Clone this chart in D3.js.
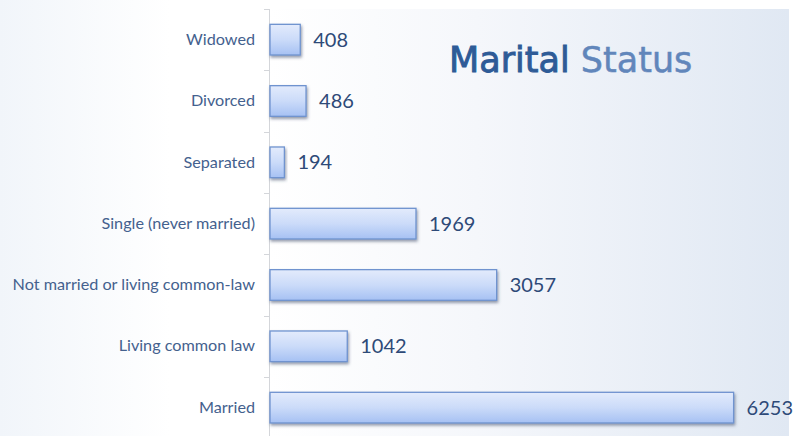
<!DOCTYPE html>
<html>
<head>
<meta charset="utf-8">
<script src="https://cdn.jsdelivr.net/npm/d3@7"></script>
<style>
  body { margin: 0; background: #fff; }
  svg { display: block; }
</style>
</head>
<body>
<script>
// chart data
var categories = ["Widowed", "Divorced", "Separated", "Single (never married)",
    "Not married or living common-law", "Living common law", "Married"];
var values = [408, 486, 194, 1969, 3057, 1042, 6253];
var titleWords = ["Marital", "Status"];

var width = 809,
    height = 436;

var svg = d3.select("body").append("svg")
    .attr("width", width)
    .attr("height", height);

var defs = svg.append("defs");

var leftGrad = defs.append("linearGradient").attr("id", "leftGrad")
    .attr("x1", 0).attr("x2", 1).attr("y1", 0).attr("y2", 0);
leftGrad.append("stop").attr("offset", "0%").attr("stop-color", "#f1f5fa");
leftGrad.append("stop").attr("offset", "100%").attr("stop-color", "#ffffff");

var plotGrad = defs.append("linearGradient").attr("id", "plotGrad")
    .attr("x1", 0).attr("x2", 1).attr("y1", 0).attr("y2", 0);
plotGrad.append("stop").attr("offset", "0%").attr("stop-color", "#ffffff");
plotGrad.append("stop").attr("offset", "40%").attr("stop-color", "#f5f7fb");
plotGrad.append("stop").attr("offset", "100%").attr("stop-color", "#e0e8f3");

var barGrad = defs.append("linearGradient").attr("id", "barGrad")
    .attr("x1", 0).attr("x2", 0).attr("y1", 0).attr("y2", 1);
barGrad.append("stop").attr("offset", "0%").attr("stop-color", "#e3ebfc");
barGrad.append("stop").attr("offset", "50%").attr("stop-color", "#cbdbf9");
barGrad.append("stop").attr("offset", "100%").attr("stop-color", "#a6c1f3");

var shadow = defs.append("filter").attr("id", "shadow")
    .attr("x", "-10%").attr("y", "-20%").attr("width", "130%").attr("height", "160%");
shadow.append("feDropShadow")
    .attr("dx", 1).attr("dy", 2).attr("stdDeviation", 1.4)
    .attr("flood-color", "#3a4a66").attr("flood-opacity", 0.55);

var x = d3.scaleLinear().domain([0, 7000]).range([270, 789]);
var y = d3.scaleBand().domain(categories).range([9, 438.3])
    .paddingInner(0.5).paddingOuter(0.25);

// backgrounds
svg.append("rect").attr("x", 0).attr("y", 0)
    .attr("width", 170).attr("height", height)
    .attr("fill", "url(#leftGrad)");
svg.append("rect").attr("x", x.range()[0]).attr("y", y.range()[0])
    .attr("width", x.range()[1] - x.range()[0]).attr("height", height)
    .attr("fill", "url(#plotGrad)");

// title
var title = svg.append("text")
    .attr("x", 449).attr("y", 72)
    .style("font-family", "'DejaVu Sans', sans-serif")
    .style("font-size", "35px");
title.append("tspan").text(titleWords[0])
    .attr("fill", "#2e5b97").attr("stroke", "#2e5b97").attr("stroke-width", 0.9);
title.append("tspan").text(" " + titleWords[1])
    .attr("fill", "#6186bb").attr("stroke", "#6186bb").attr("stroke-width", 0.5);

// axis line and ticks at band boundaries
var gap = (y.step() - y.bandwidth()) / 2;
svg.append("line")
    .attr("x1", 269.5).attr("x2", 269.5)
    .attr("y1", y.range()[0]).attr("y2", height)
    .attr("stroke", "#d4d6da");
svg.selectAll(".tick-mark")
    .data(categories)
    .enter().append("line")
    .attr("class", "tick-mark")
    .attr("x1", 264).attr("x2", 269.5)
    .attr("y1", function (d) { return Math.round(y(d) - gap) + 0.5; })
    .attr("y2", function (d) { return Math.round(y(d) - gap) + 0.5; })
    .attr("stroke", "#d4d6da");

var axis = svg.append("g")
    .attr("transform", "translate(269,0)")
    .call(d3.axisLeft(y).tickSize(0).tickPadding(14));
axis.select(".domain").remove();
axis.selectAll("text")
    .style("font-family", "Lato, sans-serif")
    .style("font-size", "16.2px")
    .attr("fill", "#44618e");

// bars
var rows = categories.map(function (c, i) {
    return { cat: c, value: values[i] };
});

svg.selectAll(".bar")
    .data(rows)
    .enter().append("rect")
    .attr("class", "bar")
    .attr("x", x(0))
    .attr("y", function (d) { return y(d.cat); })
    .attr("width", function (d) { return x(d.value) - x(0); })
    .attr("height", y.bandwidth())
    .attr("fill", "url(#barGrad)")
    .attr("stroke", "#6f93cf")
    .attr("stroke-width", 1.3)
    .attr("filter", "url(#shadow)");

svg.selectAll(".value")
    .data(rows)
    .enter().append("text")
    .attr("class", "value")
    .attr("x", function (d) { return x(d.value) + 13; })
    .attr("y", function (d) { return y(d.cat) + y.bandwidth() / 2; })
    .attr("dy", "0.35em")
    .style("font-family", "Lato, sans-serif")
    .style("font-size", "20px")
    .attr("fill", "#2e4a78")
    .text(function (d) { return d.value; });
</script>
</body>
</html>
